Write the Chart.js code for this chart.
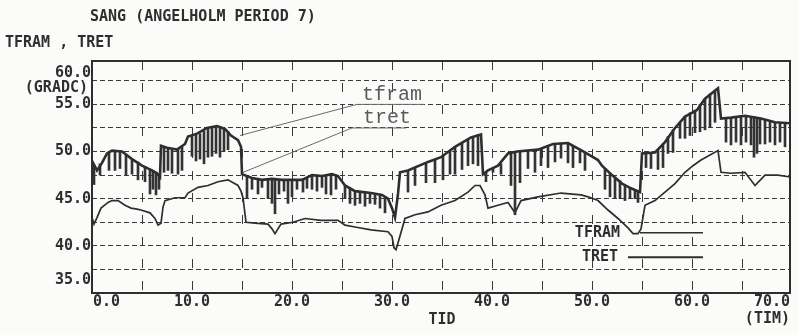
<!DOCTYPE html>
<html>
<head>
<meta charset="utf-8">
<script src="https://cdn.jsdelivr.net/npm/chart.js@4.4.1/dist/chart.umd.min.js"></script>
<style>
  html, body { margin: 0; padding: 0; background: #fbfbfa; }
</style>
</head>
<body>
<canvas id="sangChart" width="799" height="335"></canvas>
<script>
// TFRAM (supply temp) envelope, hours vs deg C
const tframHours = [0, 0.5, 1.0, 1.5, 2.0, 3.0, 4.0, 5.0, 6.0, 6.5, 6.8, 6.9, 7.5, 8.5, 9.3, 9.6, 10.5, 11.5, 12.5, 13.3,
  13.9, 14.6, 14.9, 15.0, 16, 17, 18, 19, 20, 21, 22, 23, 24, 24.6, 25.3, 26.3, 27.9, 29.0, 29.6, 30.0,
  30.3, 30.6, 30.8, 31.6, 33.6, 34.9, 36.3, 37.9, 38.9, 39.1, 39.6, 40.6, 41.6, 42.5, 44.6, 46.1, 47.6, 49.3, 50.1, 50.6,
  51.0, 52.0, 53.0, 53.9, 54.8, 55.0, 56.3, 57.3, 58.3, 59.3, 60.5, 61.3, 62.6, 62.9, 63.9, 65.3, 66.9, 68.3, 69.8];
const tframValues = [49.0, 48.0, 48.8, 49.8, 50.1, 50.0, 49.2, 48.5, 48.0, 47.7, 47.3, 50.6, 50.4, 50.2, 50.8, 51.6, 51.9, 52.5, 52.7, 52.4,
  51.7, 51.2, 50.5, 47.6, 47.2, 47.0, 47.1, 47.0, 47.0, 47.0, 47.5, 47.4, 47.6, 47.4, 46.4, 45.8, 45.6, 45.4, 45.0, 44.0,
  43.0, 45.5, 47.8, 48.0, 48.9, 49.4, 50.5, 51.5, 51.8, 47.6, 48.0, 48.5, 49.8, 50.0, 50.2, 50.8, 50.9, 49.9, 49.4, 49.1,
  48.5, 47.5, 46.6, 46.1, 45.7, 49.8, 49.9, 51.0, 52.5, 53.7, 54.4, 55.6, 56.7, 53.5, 53.6, 53.8, 53.5, 53.1, 53.0];

// the short downward spikes on TFRAM
const dipHours = [0.2, 0.8, 1.7, 2.3, 2.8, 3.4, 4.0, 4.6, 5.3, 5.8, 6.1, 6.4, 6.7,
  7.2, 7.6, 8.0, 8.6, 9.0,
  10.0, 10.4, 10.8, 11.2, 11.6, 12.0, 12.4, 12.8, 13.2, 13.6,
  15.5, 16.0, 16.6, 17.0, 17.6, 18.0, 18.3, 18.7, 19.2, 19.6, 20.0, 20.5, 21.1, 21.5, 22.0, 22.5, 23.0, 23.4, 23.9, 24.4,
  25.3, 25.8, 26.3, 26.8, 27.3, 27.8, 28.3, 28.8, 29.3,
  31.6, 32.3, 33.4, 34.3, 35.1, 35.8, 36.3, 37.0, 37.6, 38.1, 38.6,
  39.4, 40.1, 40.9, 41.9, 42.3, 42.8, 43.6, 44.3, 44.9, 45.6, 46.3, 46.9, 47.6, 48.1, 48.8, 49.3,
  51.3, 51.8, 52.3, 52.8, 53.3, 53.8, 54.3, 54.6,
  55.4, 55.9, 56.6, 57.1, 57.6, 58.1, 58.8, 59.3, 59.8, 60.3, 60.8, 61.3, 61.8, 62.3,
  63.4, 63.9, 64.4, 64.9, 65.4, 65.9, 66.2, 66.5, 66.8, 67.3, 67.8, 68.3, 68.8, 69.3];
const dipLow = [46.5, 47.5, 48.0, 48.0, 48.2, 47.5, 47.6, 47.0, 46.8, 45.5, 46.0, 45.4, 46.0,
  47.8, 48.0, 47.7, 47.6, 48.0,
  49.5, 49.0, 49.2, 48.7, 49.4, 49.5, 49.8, 49.4, 50.0, 50.2,
  45.0, 46.0, 45.5, 46.2, 45.0, 44.5, 43.4, 45.5, 45.8, 44.5, 45.2, 46.0, 45.7, 46.1, 46.0, 45.8, 46.2, 45.5, 45.4, 46.0,
  45.0, 44.5, 44.3, 44.5, 44.2, 44.5, 44.4, 44.0, 43.5,
  45.7, 46.4, 46.7, 46.7, 47.0, 47.6, 47.6, 48.1, 48.5, 48.7, 48.5,
  46.8, 47.8, 47.6, 46.4, 43.3, 46.7, 48.2, 47.8, 48.5, 48.3, 48.9, 49.3, 48.8, 48.3, 48.8, 48.0,
  46.0, 45.2, 45.0, 45.0, 44.8, 45.0, 45.0, 44.6,
  48.3, 48.2, 48.1, 48.3, 49.8, 49.9, 51.4, 51.4, 51.7, 52.0, 52.1, 52.3, 52.6, 53.1,
  51.0, 50.7, 51.0, 50.7, 51.0, 50.7, 49.4, 49.8, 50.8, 50.8, 51.0, 50.7, 51.0, 50.5];
const dipTop = [48.5, 48.7, 49.9, 50.1, 50.0, 49.7, 49.2, 48.9, 48.4, 48.1, 48.0, 47.8, 47.5,
  50.5, 50.4, 50.3, 50.2, 50.5,
  51.7, 51.8, 51.9, 52.2, 52.5, 52.6, 52.7, 52.6, 52.4, 52.1,
  47.4, 47.2, 47.1, 47.0, 47.1, 47.1, 47.0, 47.0, 47.0, 47.0, 47.0, 47.0, 47.1, 47.2, 47.5, 47.5, 47.4, 47.5, 47.6, 47.5,
  46.4, 46.1, 45.8, 45.7, 45.7, 45.6, 45.5, 45.4, 45.2,
  48.0, 48.3, 48.8, 49.1, 49.6, 50.1, 50.5, 50.9, 51.3, 51.6, 51.8,
  47.8, 48.2, 48.7, 49.9, 50.0, 50.0, 50.1, 50.2, 50.3, 50.6, 50.8, 50.9, 50.9, 50.6, 50.1, 49.9,
  48.2, 47.7, 47.3, 46.9, 46.4, 46.1, 45.9, 45.8,
  49.8, 49.8, 50.2, 50.8, 51.6, 52.3, 53.1, 53.7, 54.1, 54.4, 55.0, 55.6, 56.1, 56.5,
  53.5, 53.6, 53.7, 53.8, 53.8, 53.7, 53.7, 53.6, 53.5, 53.4, 53.3, 53.1, 53.1, 53.0];

// TRET (return temp)
const tretHours = [0, 0.2, 0.5, 0.9, 1.6, 2.0, 2.6, 3.3, 3.9, 4.5, 4.9, 5.8, 6.3, 6.6, 6.9, 7.1, 7.3, 8.3, 9.3, 9.6,
  10.6, 11.6, 12.6, 13.6, 14.6, 14.9, 15.1, 15.4, 16.3, 17.6, 18.0, 18.3, 18.9, 20.1, 21.3, 22.9, 24.6, 25.3, 26.3, 27.9,
  29.6, 30.0, 30.2, 30.4, 30.6, 31.3, 32.3, 33.6, 34.9, 36.3, 37.6, 38.3, 38.8, 39.3, 39.6, 40.6, 41.6, 42.3, 42.9, 44.6,
  46.9, 48.9, 49.6, 50.6, 51.6, 52.6, 53.6, 54.1, 54.6, 54.9, 55.3, 56.3, 57.3, 58.3, 59.3, 60.1, 60.9, 62.6, 62.9, 63.9,
  65.3, 66.3, 67.3, 68.6, 69.8];
const tretValues = [43.0, 42.3, 43.0, 44.0, 44.6, 44.8, 44.8, 44.3, 44.0, 43.9, 43.8, 43.5, 42.9, 42.2, 42.4, 44.1, 44.8, 45.1, 45.1, 45.6,
  46.2, 46.4, 46.8, 47.0, 46.4, 45.8, 45.1, 42.5, 42.4, 42.3, 41.8, 41.3, 42.3, 42.5, 42.9, 42.7, 42.7, 42.2, 42.0, 41.7,
  41.5, 41.0, 39.8, 39.6, 40.3, 42.9, 43.3, 43.6, 44.3, 44.8, 45.7, 46.4, 46.4, 45.4, 44.0, 44.3, 44.6, 43.5, 44.8, 45.2,
  45.6, 45.4, 45.2, 44.8, 43.8, 42.9, 41.9, 41.3, 41.3, 41.8, 44.3, 44.8, 45.7, 46.6, 47.8, 48.5, 49.1, 50.1, 47.8, 47.7,
  47.8, 46.4, 47.5, 47.5, 47.3];

// hand-drawn labels and their leader lines
const tframLeaderX = [14.8, 26.5, 33.2];
const tframLeaderY = [51.7, 55.0, 55.0];
const tretLeaderX = [14.9, 26.0, 31.4];
const tretLeaderY = [47.7, 52.5, 52.5];
const keyTframX = [54.8, 61.1];
const keyTframY = [41.4, 41.4];
const keyTretX = [53.6, 61.1];
const keyTretY = [38.8, 38.8];

// axes
const xGrid = [5, 10, 15, 20, 25, 30, 35, 40, 45, 50, 55, 60, 65];
const yGrid = [37.5, 40, 42.5, 45, 47.5, 50, 52.5, 55, 57.5];
const xLabels = [0, 10, 20, 30, 40, 50, 60, 70];
const yLabels = [35, 40, 45, 50, 55, 60];

const ink = '#2e2e2e';
const pts = (xs, ys) => xs.map((h, i) => ({ x: h, y: ys[i] }));

const plotterText = {
  id: 'plotterText',
  afterDraw(chart) {
    const { ctx, chartArea: a, scales: { x, y } } = chart;
    ctx.save();
    ctx.strokeStyle = ink;
    ctx.lineWidth = 2;
    ctx.strokeRect(a.left, a.top, a.right - a.left, a.bottom - a.top);

    ctx.fillStyle = ink;
    ctx.font = 'bold 15px "DejaVu Sans Mono"';
    ctx.textBaseline = 'middle';

    ctx.textAlign = 'right';
    yLabels.forEach(v => {
      const py = Math.min(Math.max(y.getPixelForValue(v), a.top + 12), a.bottom - 13);
      ctx.fillText(v.toFixed(1), a.left - 1, py);
    });

    ctx.textAlign = 'center';
    xLabels.forEach(v => {
      const txt = v.toFixed(1);
      const w = ctx.measureText(txt).width;
      const px = Math.min(Math.max(x.getPixelForValue(v), a.left + w / 2 + 1), a.right - w / 2);
      ctx.fillText(txt, px, a.bottom + 9);
    });
    ctx.fillText('TID', 442, 320);
    ctx.textAlign = 'right';
    ctx.fillText('(TIM)', a.right, 319);
    ctx.fillText('(GRADC)', 88, 88);

    ctx.textAlign = 'left';
    ctx.fillText('SANG (ANGELHOLM PERIOD 7)', 90, 17);
    ctx.fillText('TFRAM , TRET', 5, 43);

    // key at lower right
    ctx.textAlign = 'right';
    ctx.fillText('TFRAM', x.getPixelForValue(52.8), y.getPixelForValue(41.4));
    ctx.fillText('TRET', x.getPixelForValue(52.6), y.getPixelForValue(38.8));

    // handwritten-style tags
    ctx.fillStyle = '#5a5a5a';
    ctx.font = '20px "Liberation Mono"';
    ctx.textAlign = 'left';
    ctx.textBaseline = 'alphabetic';
    ctx.fillText('tfram', x.getPixelForValue(27.0), y.getPixelForValue(55.0) - 4);
    ctx.fillText('tret', x.getPixelForValue(27.1), y.getPixelForValue(52.5) - 5);
    ctx.restore();
  }
};

new Chart(document.getElementById('sangChart'), {
  type: 'line',
  data: {
    datasets: [
      {
        label: 'TFRAM',
        data: pts(tframHours, tframValues),
        borderColor: ink,
        borderWidth: 2.6,
      },
      {
        type: 'bar',
        label: 'TFRAM dips',
        data: dipHours.map((h, i) => ({ x: h, y: [dipLow[i], dipTop[i]] })),
        backgroundColor: '#333333',
        barThickness: 2,
        grouped: false,
      },
      {
        label: 'TRET',
        data: pts(tretHours, tretValues),
        borderColor: ink,
        borderWidth: 1.7,
      },
      {
        label: 'tfram tag',
        data: pts(tframLeaderX, tframLeaderY),
        borderColor: '#6a6a6a',
        borderWidth: 1,
      },
      {
        label: 'tret tag',
        data: pts(tretLeaderX, tretLeaderY),
        borderColor: '#6a6a6a',
        borderWidth: 1,
      },
      {
        label: 'key tfram',
        data: pts(keyTframX, keyTframY),
        borderColor: ink,
        borderWidth: 1.5,
      },
      {
        label: 'key tret',
        data: pts(keyTretX, keyTretY),
        borderColor: ink,
        borderWidth: 2,
      },
    ]
  },
  options: {
    responsive: false,
    animation: false,
    layout: { padding: { left: 92, right: 9, top: 61, bottom: 42 } },
    elements: {
      point: { radius: 0 },
      line: { tension: 0, fill: false },
    },
    plugins: {
      legend: { display: false },
      tooltip: { enabled: false },
    },
    scales: {
      x: {
        type: 'linear',
        min: 0,
        max: 69.8,
        offset: false,
        afterBuildTicks: axis => { axis.ticks = xGrid.map(v => ({ value: v })); },
        ticks: { display: false },
        grid: { color: '#3a3a3a', lineWidth: 1, drawTicks: false, offset: false },
        border: { display: false, dash: [9, 13] },
      },
      y: {
        min: 35,
        max: 59.6,
        afterBuildTicks: axis => { axis.ticks = yGrid.map(v => ({ value: v })); },
        ticks: { display: false },
        grid: { color: '#3a3a3a', lineWidth: 1, drawTicks: false },
        border: { display: false, dash: [5, 3] },
      },
    },
  },
  plugins: [plotterText],
});
</script>
</body>
</html>
